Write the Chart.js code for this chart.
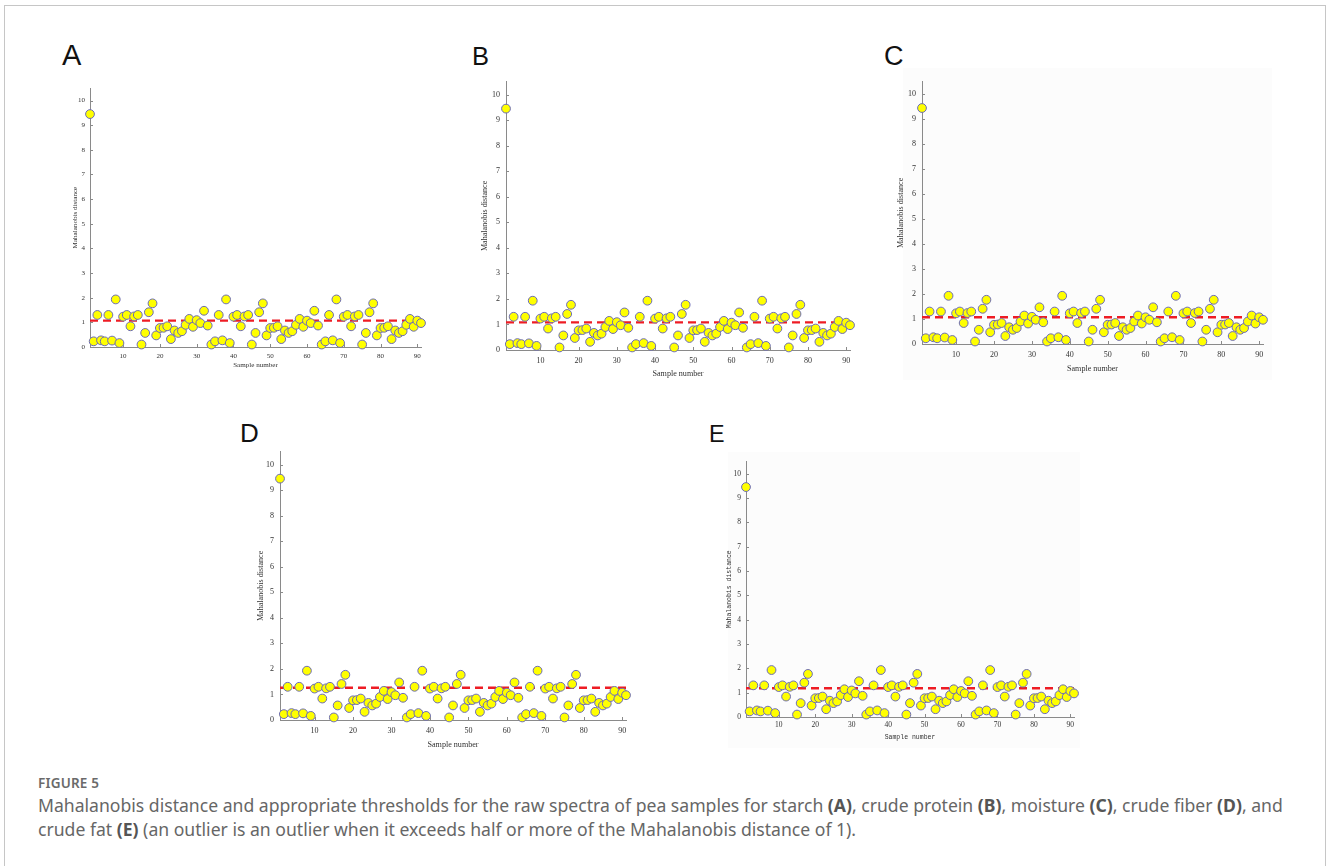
<!DOCTYPE html>
<html>
<head>
<meta charset="utf-8">
<script src="https://cdn.jsdelivr.net/npm/chart.js@4.4.0/dist/chart.umd.min.js"></script>
<style>
  html, body { margin:0; padding:0; background:#fff; }
  body { width:1328px; height:866px; position:relative; overflow:hidden; }
  .frame { position:absolute; left:4px; top:5px; width:1320px; height:900px; border:1.5px solid #c6c6c6; }
  .lbl { position:absolute; font-family:"Liberation Sans", Arial, sans-serif; color:#111; line-height:1; }
  .bg { position:absolute; background:#fcfcfc; }
  canvas { position:absolute; }
  .fig { position:absolute; left:38px; top:774px; font-family:"Noto Sans", sans-serif; font-size:13.5px; font-weight:600; color:#6a6a6a; letter-spacing:0.2px; }
  .cap { position:absolute; left:38px; top:794px; font-family:"Noto Sans", sans-serif; font-size:17.6px; line-height:23.5px; color:#666; white-space:nowrap; }
  .cap b { color:#555; }
</style>
</head>
<body>
<div class="frame"></div>
<div class="bg" style="left:903px;top:68px;width:369px;height:312px;"></div>
<div class="bg" style="left:728px;top:452px;width:352px;height:296px;"></div>
<div id="wrap"></div>
<div class="fig">FIGURE 5</div>
<div class="cap">Mahalanobis distance and appropriate thresholds for the raw spectra of pea samples for starch <b>(A)</b>, crude protein <b>(B)</b>, moisture <b>(C)</b>, crude fiber <b>(D)</b>, and<br>crude fat <b>(E)</b> (an outlier is an outlier when it exceeds half or more of the Mahalanobis distance of 1).</div>
<script>
// Mahalanobis distance for samples 1..91 (same spectra in every panel)
var distance = [
  9.45, 0.23, 1.30, 0.27, 0.23, 1.30, 0.26, 1.93, 0.16, 1.23,
  1.30, 0.84, 1.24, 1.30, 0.10, 0.57, 1.41, 1.77, 0.47, 0.77,
  0.78, 0.84, 0.32, 0.67, 0.57, 0.64, 0.90, 1.14, 0.82, 1.09,
  0.97, 1.47, 0.87, 0.10, 0.23, 1.30, 0.27, 1.93, 0.16, 1.23,
  1.30, 0.84, 1.24, 1.30, 0.10, 0.57, 1.41, 1.77, 0.47, 0.77,
  0.78, 0.84, 0.32, 0.67, 0.57, 0.64, 0.90, 1.14, 0.82, 1.07,
  0.97, 1.47, 0.87, 0.10, 0.23, 1.30, 0.27, 1.93, 0.16, 1.23,
  1.30, 0.84, 1.24, 1.30, 0.10, 0.57, 1.41, 1.77, 0.47, 0.77,
  0.78, 0.84, 0.32, 0.67, 0.57, 0.64, 0.90, 1.14, 0.82, 1.07,
  0.97
];
var panelNames = ['A', 'B', 'C', 'D', 'E'];
var thresholds = [1.07, 1.08, 1.07, 1.26, 1.18];
var xTicks = [10, 20, 30, 40, 50, 60, 70, 80, 90];
var yTicks = [0, 1, 2, 3, 4, 5, 6, 7, 8, 9, 10];

var serif = '"Liberation Serif", "Times New Roman", serif';
var mono = '"Liberation Mono", "DejaVu Sans Mono", monospace';

// layout of each panel: chart area box + title positions
var panels = [
  {L:90,  R:421,  T:85,  B:347, yTitleX:75,  xTitleY:365, tick:7,   title:7.1, fam:serif, xPad:5, yPad:5, lx:62,  ly:41, ls:29},
  {L:506, R:850,  T:77,  B:350, yTitleX:485, xTitleY:374, tick:8,   title:8.1, fam:serif, xPad:6, yPad:6, lx:472, ly:44, ls:25.5},
  {L:922, R:1263, T:77,  B:344, yTitleX:901, xTitleY:369, tick:8,   title:8.1, fam:serif, xPad:6, yPad:6, lx:884, ly:43, ls:27},
  {L:280, R:626,  T:447, B:720, yTitleX:261, xTitleY:745, tick:8,   title:8.1, fam:serif, xPad:6, yPad:6, lx:240, ly:420, ls:26},
  {L:746, R:1074, T:458, B:717, yTitleX:729, xTitleY:737, tick:7.5, title:6.5, fam:mono,  xPad:3.5, yPad:5, lx:709, ly:423, ls:23.3}
];

// short tick marks pointing into the plot
var innerTicks = {
  id: 'innerTicks',
  afterDraw: function(chart) {
    var ctx = chart.ctx, xs = chart.scales.x, ys = chart.scales.y, a = chart.chartArea;
    ctx.save();
    ctx.strokeStyle = '#8a8a8a';
    ctx.lineWidth = 1;
    ctx.beginPath();
    xTicks.forEach(function(v) {
      var px = Math.round(xs.getPixelForValue(v)) + 0.5;
      ctx.moveTo(px, a.bottom); ctx.lineTo(px, a.bottom - 3);
    });
    yTicks.forEach(function(v) {
      var py = Math.round(ys.getPixelForValue(v)) + 0.5;
      ctx.moveTo(a.left, py); ctx.lineTo(a.left + 3, py);
    });
    ctx.stroke();
    ctx.restore();
  }
};

var wrap = document.getElementById('wrap');
panels.forEach(function(p, i) {
  var lab = document.createElement('div');
  lab.className = 'lbl';
  lab.style.left = p.lx + 'px';
  lab.style.top = p.ly + 'px';
  lab.style.fontSize = p.ls + 'px';
  lab.textContent = panelNames[i];
  wrap.appendChild(lab);

  var lh = p.title * 1.2;
  var left = Math.round(p.yTitleX - lh / 2);
  var top = p.T - 6;
  var yW = p.L - left;
  var xH = Math.round(p.xTitleY + lh / 2 - p.B);
  var w = p.R - left + 8;
  var h = 6 + (p.B - p.T) + xH;

  var cv = document.createElement('canvas');
  cv.width = w; cv.height = h;
  cv.style.left = left + 'px';
  cv.style.top = top + 'px';
  cv.style.width = w + 'px';
  cv.style.height = h + 'px';
  wrap.appendChild(cv);

  var pts = distance.map(function(v, k) { return {x: k + 1, y: v}; });
  var line = [{x: 1, y: thresholds[i]}, {x: distance.length, y: thresholds[i]}];

  new Chart(cv, {
    type: 'scatter',
    data: {
      datasets: [{
        data: pts,
        backgroundColor: '#ffff00',
        borderColor: '#6a6ab8',
        borderWidth: 1,
        pointRadius: 4.4,
        clip: false,
        order: 0
      }, {
        type: 'line',
        data: line,
        borderColor: '#ee1c24',
        borderWidth: 2.4,
        borderDash: [8, 5],
        pointRadius: 0,
        fill: false,
        clip: false,
        order: 1
      }]
    },
    options: {
      responsive: false,
      animation: false,
      devicePixelRatio: 1,
      layout: { padding: { top: 6, right: 8, left: 0, bottom: 0 } },
      plugins: { legend: { display: false }, tooltip: { enabled: false } },
      scales: {
        x: {
          type: 'linear', min: 1, max: 91,
          afterBuildTicks: function(s) { s.ticks = xTicks.map(function(v) { return {value: v}; }); },
          afterFit: function(s) { s.height = xH; },
          grid: { display: false, drawTicks: false },
          border: { display: true, color: '#8a8a8a', width: 1 },
          ticks: { padding: p.xPad, color: '#333', maxRotation: 0, autoSkip: false, font: { family: serif, size: p.tick } },
          title: { display: true, text: 'Sample number', color: '#333', padding: 0, font: { family: p.fam, size: p.title } }
        },
        y: {
          type: 'linear', min: 0, max: 10.5,
          afterBuildTicks: function(s) { s.ticks = yTicks.map(function(v) { return {value: v}; }); },
          afterFit: function(s) { s.width = yW; },
          grid: { display: false, drawTicks: false },
          border: { display: true, color: '#8a8a8a', width: 1 },
          ticks: { padding: p.yPad, color: '#333', font: { family: serif, size: p.tick } },
          title: { display: true, text: 'Mahalanobis distance', color: '#333', padding: 0, font: { family: p.fam, size: p.title } }
        }
      }
    },
    plugins: [innerTicks]
  });
});
</script>
</body>
</html>
